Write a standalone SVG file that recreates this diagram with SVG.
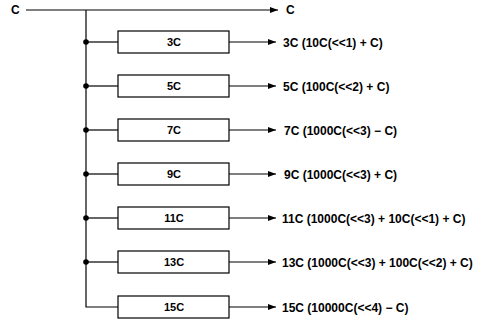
<svg xmlns="http://www.w3.org/2000/svg" width="485" height="322" viewBox="0 0 485 322">
<defs>
<marker id="ah" viewBox="0 0 8 6" refX="8" refY="3" markerWidth="8" markerHeight="6" markerUnits="userSpaceOnUse" orient="auto">
<path d="M0,0 L8,3 L0,6 Z" fill="#000"/>
</marker>
</defs>
<style>
.ln{stroke:#000;stroke-width:1.2;fill:none}
.bx{stroke:#000;stroke-width:1.2;fill:#fff}
.t{font-family:"Liberation Sans",Arial,sans-serif;font-size:12px;font-weight:bold;fill:#000}
.c{text-anchor:middle;font-size:11px}
</style>
<rect width="485" height="322" fill="#fff"/>
<g id="connectors">
<line class="ln" x1="26" y1="10" x2="278" y2="10" marker-end="url(#ah)"/>
<polyline class="ln" points="86,10 86,307 118,307"/>
<line class="ln" x1="86" y1="42" x2="118" y2="42"/>
<line class="ln" x1="86" y1="86" x2="118" y2="86"/>
<line class="ln" x1="86" y1="130" x2="118" y2="130"/>
<line class="ln" x1="86" y1="174" x2="118" y2="174"/>
<line class="ln" x1="86" y1="218" x2="118" y2="218"/>
<line class="ln" x1="86" y1="262" x2="118" y2="262"/>
<line class="ln" x1="229" y1="42" x2="276" y2="42" marker-end="url(#ah)"/>
<line class="ln" x1="229" y1="86" x2="276" y2="86" marker-end="url(#ah)"/>
<line class="ln" x1="229" y1="130" x2="276" y2="130" marker-end="url(#ah)"/>
<line class="ln" x1="229" y1="174" x2="276" y2="174" marker-end="url(#ah)"/>
<line class="ln" x1="229" y1="218" x2="276" y2="218" marker-end="url(#ah)"/>
<line class="ln" x1="229" y1="262" x2="276" y2="262" marker-end="url(#ah)"/>
<line class="ln" x1="229" y1="307" x2="276" y2="307" marker-end="url(#ah)"/>
<circle cx="86" cy="42" r="2.8"/>
<circle cx="86" cy="86" r="2.8"/>
<circle cx="86" cy="130" r="2.8"/>
<circle cx="86" cy="174" r="2.8"/>
<circle cx="86" cy="218" r="2.8"/>
<circle cx="86" cy="262" r="2.8"/>
</g>
<g id="input"><text class="t" x="11" y="14">C</text></g>
<g id="out-c"><text class="t" x="286" y="14">C</text></g>
<g id="n3"><rect class="bx" x="118" y="31" width="111" height="22"/><text class="t c" x="174" y="46">3C</text><text class="t" x="283" y="47">3C (10C(&lt;&lt;1) + C)</text></g>
<g id="n5"><rect class="bx" x="118" y="75" width="111" height="22"/><text class="t c" x="174" y="90">5C</text><text class="t" x="283" y="91">5C (100C(&lt;&lt;2) + C)</text></g>
<g id="n7"><rect class="bx" x="118" y="119" width="111" height="22"/><text class="t c" x="174" y="134">7C</text><text class="t" x="284" y="135">7C (1000C(&lt;&lt;3) − C)</text></g>
<g id="n9"><rect class="bx" x="118" y="163" width="111" height="22"/><text class="t c" x="174" y="178">9C</text><text class="t" x="284" y="179">9C (1000C(&lt;&lt;3) + C)</text></g>
<g id="n11"><rect class="bx" x="118" y="207" width="111" height="22"/><text class="t c" x="174" y="222">11C</text><text class="t" x="282" y="223">11C (1000C(&lt;&lt;3) + 10C(&lt;&lt;1) + C)</text></g>
<g id="n13"><rect class="bx" x="118" y="251" width="111" height="22"/><text class="t c" x="174" y="266">13C</text><text class="t" x="282" y="267">13C (1000C(&lt;&lt;3) + 100C(&lt;&lt;2) + C)</text></g>
<g id="n15"><rect class="bx" x="118" y="296" width="111" height="22"/><text class="t c" x="174" y="311">15C</text><text class="t" x="282" y="312">15C (10000C(&lt;&lt;4) − C)</text></g>
</svg>
